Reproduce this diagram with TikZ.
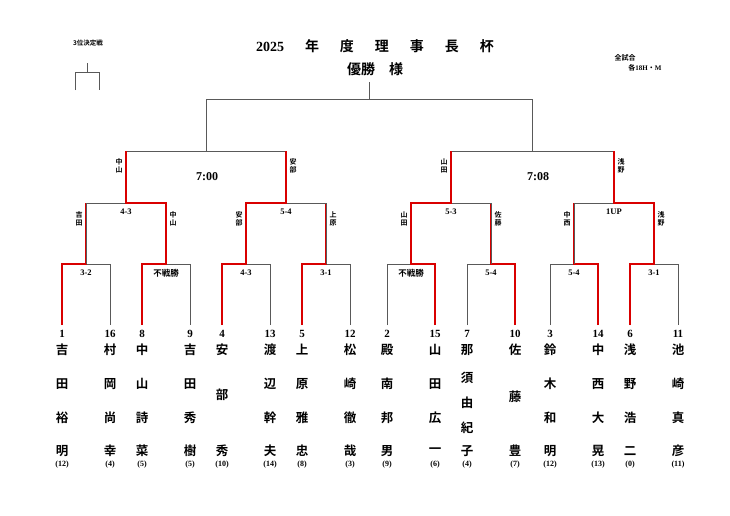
\documentclass[tikz,border=0pt]{standalone}
\usepackage{fontspec}
\setmainfont{Liberation Serif}
\newfontfamily\cjk{Noto Sans CJK JP}[BoldFont={Noto Sans CJK JP Bold}]
\begin{document}
\begin{tikzpicture}[x=1pt,y=-1pt,
  gl/.style={draw=black!65,line width=0.8pt},
  rl/.style={draw=red!85!black,line width=1.3pt},
  sc/.style={font=\bfseries\fontsize{8.5}{8.5}\selectfont,inner sep=0pt},
  sl/.style={font=\cjk\bfseries\fontsize{7}{7.5}\selectfont,align=center,inner sep=0pt},
  ch/.style={font=\cjk\bfseries\fontsize{12.5}{12.5}\selectfont,inner sep=0pt}]
\useasboundingbox (0,0) rectangle (730,515);
\newcommand\mtch[6]{%
  \pgfmathsetmacro\xm{(#1+#2)/2}%
  \draw[gl] (#1,#4) -- (#1,#3) -- (#2,#3) -- (#2,#4);
  \draw[gl] (\xm,#3) -- (\xm,#6);
  \ifnum#5=1 \draw[rl] (#1,#4) -- (#1,#3) -- (\xm,#3) -- (\xm,#6);\fi
  \ifnum#5=2 \draw[rl] (#2,#4) -- (#2,#3) -- (\xm,#3) -- (\xm,#6);\fi}
% round 1
\mtch{62}{110}{264}{325}{1}{203}
\mtch{142}{190}{264}{325}{1}{203}
\mtch{222}{270}{264}{325}{1}{203}
\mtch{302}{350}{264}{325}{1}{203}
\mtch{387}{435}{264}{325}{2}{203}
\mtch{467}{515}{264}{325}{2}{203}
\mtch{550}{598}{264}{325}{2}{203}
\mtch{630}{678}{264}{325}{1}{203}
% round 2
\mtch{86}{166}{203}{264}{2}{151}
\mtch{246}{326}{203}{264}{1}{151}
\mtch{411}{491}{203}{264}{1}{151}
\mtch{574}{654}{203}{264}{2}{151}
% round 3 (undecided)
\draw[gl] (126,151) -- (286,151); \draw[gl] (206,151) -- (206,99);
\draw[gl] (451,151) -- (614,151); \draw[gl] (532,151) -- (532,99);
\draw[rl] (126,203) -- (126,151); \draw[rl] (286,203) -- (286,151);
\draw[rl] (451,203) -- (451,151); \draw[rl] (614,203) -- (614,151);
% final
\draw[gl] (206,99) -- (532,99); \draw[gl] (369,99) -- (369,82);
% third place
\draw[gl] (75,90) -- (75,72) -- (99,72) -- (99,90); \draw[gl] (87,72) -- (87,63);
\node[font=\cjk\bfseries\fontsize{6.5}{6.5}\selectfont,inner sep=0pt] (third) at (88,43) {3位決定戦};
% titles
\node[font=\bfseries\fontsize{14}{14}\selectfont,inner sep=0pt] (t1) at (375,46) {2025\hspace{1.5em}{\cjk 年\hspace{1.5em}度\hspace{1.5em}理\hspace{1.5em}事\hspace{1.5em}長\hspace{1.5em}杯}};
\node[font=\cjk\bfseries\fontsize{14}{14}\selectfont,inner sep=0pt] (t2) at (375,69) {優勝\hspace{1em}様};
\node[font=\cjk\bfseries\fontsize{7}{7}\selectfont,inner sep=0pt] (all1) at (625,58) {全試合};
\node[font=\bfseries\fontsize{7}{7}\selectfont,inner sep=0pt] (all2) at (645,68) {{\cjk 各}18H{\cjk ・}M};
% times
\node[sc,font=\bfseries\fontsize{12}{12}\selectfont] (tm1) at (207,177) {7:00};
\node[sc,font=\bfseries\fontsize{12}{12}\selectfont] (tm2) at (538,177) {7:08};
% scores
\foreach \x/\s in {86/3-2,246/4-3,326/3-1,491/5-4,574/5-4,654/3-1}
  \node[sc] at (\x,273) {\s};
\foreach \x/\s in {126/4-3,286/5-4,451/5-3,614/1UP}
  \node[sc] at (\x,212) {\s};
\node[sc,font=\cjk\bfseries\fontsize{8.5}{8.5}\selectfont] at (166,273) {不戦勝};
\node[sc,font=\cjk\bfseries\fontsize{8.5}{8.5}\selectfont] at (411,273) {不戦勝};
% side labels
\foreach \x/\t in {79/吉\\田,173/中\\山,239/安\\部,333/上\\原,404/山\\田,498/佐\\藤,567/中\\西,661/浅\\野}
  \node[sl] at (\x,219) {\t};
\foreach \x/\t in {119/中\\山,293/安\\部,444/山\\田,621/浅\\野}
  \node[sl] at (\x,166) {\t};
% leaves
\foreach \x/\n/\s in {62/1/12,110/16/4,142/8/5,190/9/5,222/4/10,270/13/14,302/5/8,350/12/3,387/2/9,435/15/6,467/7/4,515/10/7,550/3/12,598/14/13,630/6/0,678/11/11}{
  \node[sc,font=\bfseries\fontsize{11}{11}\selectfont] (n\n) at (\x,334) {\n};
  \node[sc,font=\bfseries\fontsize{8}{8}\selectfont] (s\n) at (\x,465) {(\s)};}
\foreach \x/\a/\b/\c/\d in {62/吉/田/裕/明,110/村/岡/尚/幸,142/中/山/詩/菜,190/吉/田/秀/樹,270/渡/辺/幹/夫,302/上/原/雅/忠,350/松/崎/徹/哉,387/殿/南/邦/男,435/山/田/広/一,550/鈴/木/和/明,598/中/西/大/晃,630/浅/野/浩/二,678/池/崎/真/彦}{
  \node[ch] at (\x,350) {\a}; \node[ch] at (\x,384) {\b};
  \node[ch] at (\x,418) {\c}; \node[ch] at (\x,451) {\d};}
\node[ch] at (222,350) {安}; \node[ch] at (222,395) {部}; \node[ch] at (222,451) {秀};
\node[ch] at (515,350) {佐}; \node[ch] at (515,397) {藤}; \node[ch] at (515,451) {豊};
\foreach \y/\c in {350/那,378/須,403/由,428/紀,451/子} \node[ch] at (467,\y) {\c};
\end{tikzpicture}
\end{document}
